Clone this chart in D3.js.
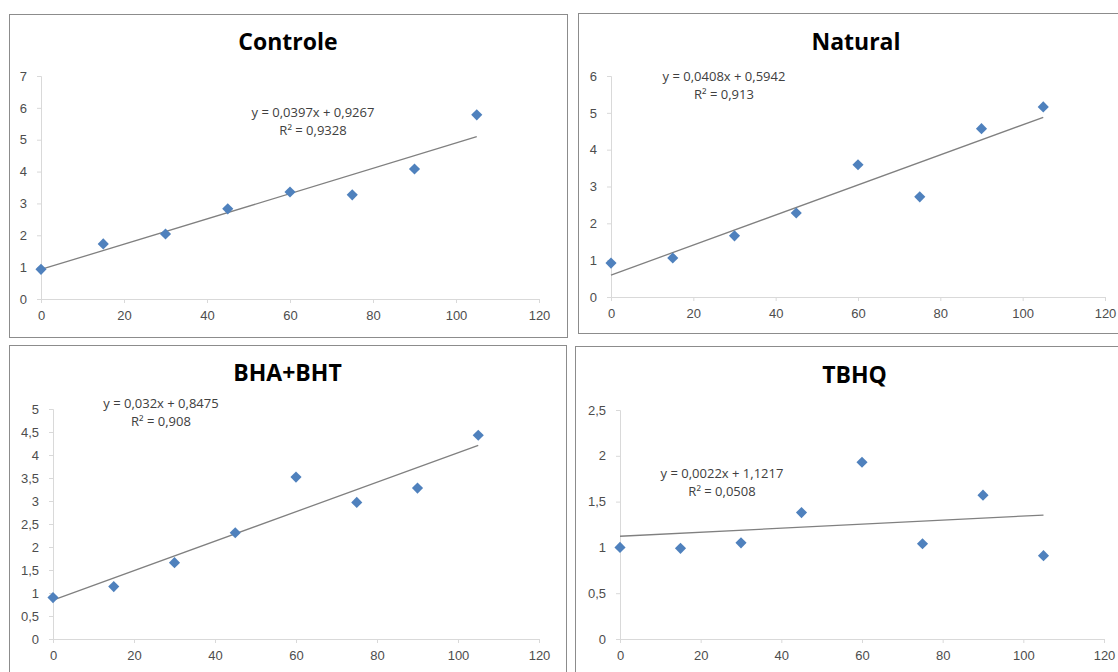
<!DOCTYPE html>
<html>
<head>
<meta charset="utf-8">
<script src="https://cdn.jsdelivr.net/npm/d3@7"></script>
<style>
  body { margin: 0; background: #fff; }
  svg { display: block; font-family: "Open Sans", sans-serif; }
  .axis path, .axis line { stroke: #d9d9d9; }
  .axis text { fill: #4d4d4d; font-size: 13px; }
</style>
</head>
<body>
<div id="chart"></div>
<script>
// days of storage (x) and measured values per treatment
const days = [0, 15, 30, 45, 60, 75, 90, 105];
const controle = [0.93, 1.73, 2.04, 2.83, 3.36, 3.27, 4.08, 5.78];
const natural = [0.92, 1.06, 1.66, 2.28, 3.59, 2.72, 4.57, 5.16];
const bhaBht = [0.90, 1.14, 1.66, 2.31, 3.52, 2.97, 3.28, 4.43];
const tbhq = [1.00, 0.99, 1.05, 1.38, 1.93, 1.04, 1.57, 0.91];

const titles = ["Controle", "Natural", "BHA+BHT", "TBHQ"];
const slopes = [0.0397, 0.0408, 0.032, 0.0022];
const intercepts = [0.9267, 0.5942, 0.8475, 1.1217];
const equations = ["y = 0,0397x + 0,9267", "y = 0,0408x + 0,5942", "y = 0,032x + 0,8475", "y = 0,0022x + 1,1217"];
const rSquared = ["R² = 0,9328", "R² = 0,913", "R² = 0,908", "R² = 0,0508"];
const yMax = [7, 6, 5, 2.5];
const yStep = [1, 1, 0.5, 0.5];
const xTicks = [0, 20, 40, 60, 80, 100, 120];

const series = [controle, natural, bhaBht, tbhq];

// panel geometry (frame box, plot box, label anchors)
const layout = [
  {frame: [9, 14, 567, 337], plot: [41, 76, 539, 299], titleY: 50, eq: [313, 117]},
  {frame: [578, 13, 1134, 333], plot: [611, 76, 1105, 297], titleY: 50, eq: [724, 81]},
  {frame: [9, 345, 566, 678], plot: [53, 409, 539, 639], titleY: 381, eq: [161, 408]},
  {frame: [575, 346, 1134, 678], plot: [620, 410, 1104, 639], titleY: 383, eq: [722, 478]}
];

const fmt = v => String(v).replace(".", ",");

const svg = d3.select("#chart").append("svg")
  .attr("width", 1118)
  .attr("height", 672);

series.forEach((vals, i) => {
  const L = layout[i];
  const g = svg.append("g");

  // outer frame
  g.append("rect")
    .attr("x", L.frame[0] + 0.5)
    .attr("y", L.frame[1] + 0.5)
    .attr("width", L.frame[2] - L.frame[0])
    .attr("height", L.frame[3] - L.frame[1])
    .attr("fill", "#fff")
    .attr("stroke", "#8c8c8c");

  g.append("text")
    .attr("x", (L.frame[0] + L.frame[2]) / 2)
    .attr("y", L.titleY)
    .attr("text-anchor", "middle")
    .attr("font-size", 23)
    .attr("font-weight", "bold")
    .attr("fill", "#000")
    .text(titles[i]);

  const x = d3.scaleLinear().domain([0, 120]).range([L.plot[0], L.plot[2]]);
  const y = d3.scaleLinear().domain([0, yMax[i]]).range([L.plot[3], L.plot[1]]);

  const yTicks = d3.range(0, yMax[i] + yStep[i] / 2, yStep[i]);

  g.append("g")
    .attr("class", "axis")
    .attr("transform", "translate(0," + L.plot[3] + ")")
    .call(d3.axisBottom(x).tickValues(xTicks).tickSize(4).tickSizeOuter(4).tickPadding(8).tickFormat(fmt));

  g.append("g")
    .attr("class", "axis")
    .attr("transform", "translate(" + L.plot[0] + ",0)")
    .call(d3.axisLeft(y).tickValues(yTicks).tickSize(4).tickSizeOuter(4).tickPadding(10).tickFormat(d => fmt(+d.toFixed(1))));

  // linear trend line from the fitted equation
  g.append("line")
    .attr("x1", x(0))
    .attr("y1", y(intercepts[i]))
    .attr("x2", x(105))
    .attr("y2", y(intercepts[i] + slopes[i] * 105))
    .attr("stroke", "#808080")
    .attr("stroke-width", 1.3);

  g.selectAll("path.pt")
    .data(vals)
    .enter()
    .append("path")
    .attr("class", "pt")
    .attr("d", d3.symbol().type(d3.symbolSquare).size(62))
    .attr("transform", (d, j) => "translate(" + x(days[j]) + "," + y(d) + ") rotate(45)")
    .attr("fill", "#4f81bd");

  const eq = g.append("text")
    .attr("text-anchor", "middle")
    .attr("font-size", 13)
    .attr("fill", "#404040");
  eq.append("tspan").attr("x", L.eq[0]).attr("y", L.eq[1]).text(equations[i]);
  eq.append("tspan").attr("x", L.eq[0]).attr("y", L.eq[1] + 18).text(rSquared[i]);
});
</script>
</body>
</html>
